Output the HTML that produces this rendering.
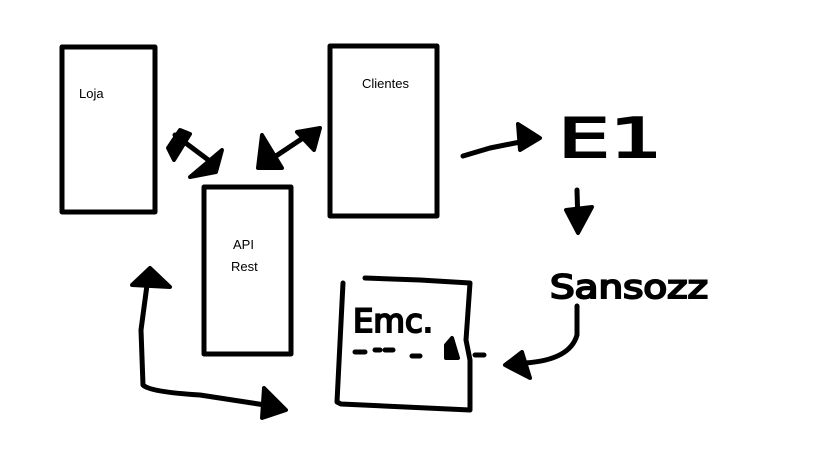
<!DOCTYPE html>
<html><head><meta charset="utf-8"><style>
html,body{margin:0;padding:0;background:#fff;width:819px;height:460px;overflow:hidden}
</style></head><body>
<svg width="819" height="460" viewBox="0 0 819 460" xmlns="http://www.w3.org/2000/svg">
<g fill="none" stroke="#000" stroke-width="5" stroke-linecap="round" stroke-linejoin="round">
<rect x="62" y="47" width="93" height="165"/>
<rect x="330" y="46" width="107" height="170"/>
<rect x="204" y="187" width="87" height="167"/>
<path d="M343 283 L337 402 L341 404 L470 410 L470 360 L466 340 L470 283 L420 280 L365 278"/>
<path d="M175 135 L215 165"/>
<path d="M270 160 L312 132"/>
<path d="M463 156 L490 148 L530 140"/>
<path d="M577 190 L578 225"/>
<path d="M577 306 L577 335 Q570 360 525 363"/>
<path d="M147 285 L141 330 L143 385 Q150 392 200 395 L265 405"/>
<path d="M355 352 L365 352 M375 350 L380 350 M385 350 L393 350 M412 356 L420 356 M475 355 L484 355"/>
</g>
<g fill="#000" stroke="#000" stroke-width="4" stroke-linejoin="round">
<polygon points="168,148 180,130 190,134 174,160"/>
<polygon points="190,177 222,150 216,172"/>
<polygon points="262,135 258,168 282,168"/>
<polygon points="297,132 320,128 314,150"/>
<polygon points="518,124 540,138 520,150"/>
<polygon points="566,210 592,207 578,233"/>
<polygon points="505,365 522,352 530,378"/>
<polygon points="132,285 150,268 170,287"/>
<polygon points="264,388 286,410 262,418"/>
<polygon points="446,345 452,338 458,358 446,358"/>
</g>
<g font-family="Liberation Sans, sans-serif" font-size="13" fill="#000">
<text x="79" y="98">Loja</text>
<text x="362" y="88">Clientes</text>
<text x="233" y="249">API</text>
<text x="231" y="271">Rest</text>
</g>
<g font-family="DejaVu Sans, sans-serif" fill="#000" stroke="#000" stroke-width="2">
<text x="558" y="157" font-size="54" font-weight="normal" textLength="104" lengthAdjust="spacingAndGlyphs">E1</text>
<text x="550" y="298" font-size="32" textLength="158" lengthAdjust="spacingAndGlyphs">Sansozz</text>
<text x="353" y="332" font-size="32" textLength="80" lengthAdjust="spacingAndGlyphs">Emc.</text>
</g>
</svg>
</body></html>
